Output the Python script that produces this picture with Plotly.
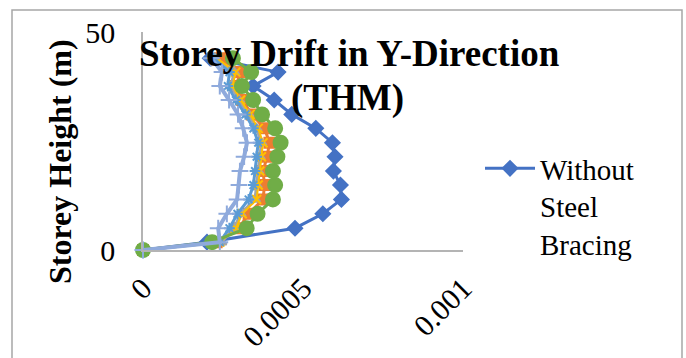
import plotly.graph_objects as go

# Storey heights (m)
heights = [0, 1.8, 5.0, 8.3, 11.6, 14.9, 18.1, 21.4, 24.6, 27.9, 31.1, 34.4, 37.6, 40.8, 44.0]

# Storey drift values
without_bracing = [0, 0.00020, 0.000475, 0.000562, 0.00062, 0.000617, 0.000595, 0.0006, 0.000592,
                   0.00054, 0.000465, 0.00041, 0.000344, 0.000422, 0.00021]
series2 = [0, 0.00023, 0.00030, 0.00033, 0.000375, 0.00038, 0.000375, 0.000388, 0.000395,
           0.00038, 0.00034, 0.00031, 0.00029, 0.000305, 0.00024]
series3 = [0, 0.000245, 0.000285, 0.000305, 0.00035, 0.000355, 0.00036, 0.000365, 0.00037,
           0.000355, 0.00033, 0.0003, 0.000275, 0.000285, 0.000225]
series4 = [0, 0.00024, 0.00029, 0.00031, 0.000355, 0.00036, 0.000365, 0.00037, 0.000375,
           0.00036, 0.000335, 0.000305, 0.00028, 0.00029, 0.00023]
series5 = [0, 0.00024, 0.00027, 0.000295, 0.00033, 0.000345, 0.00035, 0.000355, 0.00036,
           0.000345, 0.00032, 0.00029, 0.000265, 0.00027, 0.00022]
series6 = [0, 0.000216, 0.000324, 0.000358, 0.000406, 0.000413, 0.000406, 0.00042, 0.00043,
           0.000413, 0.000372, 0.000344, 0.000309, 0.000338, 0.000281]
series7 = [0, 0.00024, 0.000235, 0.000262, 0.000294, 0.0003, 0.000303, 0.000316, 0.000325,
           0.000313, 0.000297, 0.000269, 0.00024, 0.000247, 0.000213]

x_tickvals = [0, 0.0005, 0.001]
x_ticktext = ["0", "0.0005", "0.001"]
y_tickvals = [0, 50]
y_ticktext = ["0", "50"]

title_line1 = "Storey Drift in Y-Direction"
title_line2 = "(THM)"
y_title = "Storey Height (m)"

SERIF = "Liberation Serif, Times New Roman, serif"

series = [
    ("Without<br>Steel<br>Bracing", without_bracing, "#4472C4", "diamond", 11, 3, True),
    ("Series 2", series2, "#ED7D31", "square", 10, 3, False),
    ("Series 3", series3, "#A5A5A5", "triangle-up", 9, 3, False),
    ("Series 4", series4, "#FFC000", "x-thin-open", 9, 2, False),
    ("Series 5", series5, "#5B9BD5", "asterisk-open", 9, 3, False),
    ("Series 6", series6, "#70AD47", "circle", 14, 3, False),
    ("Series 7", series7, "#8FAADC", "cross-thin-open", 12, 4, False),
]

fig = go.Figure()
for name, vals, color, sym, size, lw, show in series:
    fig.add_trace(go.Scatter(
        x=vals, y=heights, name=name, mode="lines+markers",
        line=dict(color=color, width=lw),
        marker=dict(symbol=sym, size=size, color=color, line=dict(color=color, width=2)),
        cliponaxis=False, showlegend=show,
    ))

L, R, T, B = 143, 223, 32, 108
W, H = 686, 358
pw, ph = W - L - R, H - T - B


def px_to_paper(x, y):
    return (x - L) / pw, (H - B - y) / ph


bx0, by0 = px_to_paper(12, 366)
bx1, by1 = px_to_paper(682, 10)

ytx, yty = px_to_paper(60, 162)
t1x, t1y = px_to_paper(349, 53)
t2x, t2y = px_to_paper(347, 98)

title_font = dict(family=SERIF, size=37, weight="bold", color="black")

fig.update_layout(
    width=W, height=H,
    margin=dict(l=L, r=R, t=T, b=B, autoexpand=False),
    paper_bgcolor="white", plot_bgcolor="white",
    font=dict(family=SERIF, color="black"),
    xaxis=dict(range=[0, 0.001], tickvals=x_tickvals, ticktext=x_ticktext,
               tickangle=-45, showgrid=False, zeroline=False, automargin=False,
               showline=True, linecolor="#b4b4b4", linewidth=1.5, ticks="",
               tickfont=dict(family=SERIF, size=30, color="black"),
               ticklabelstandoff=7),
    yaxis=dict(range=[0, 50], tickvals=y_tickvals, ticktext=y_ticktext,
               showgrid=False, zeroline=False, automargin=False,
               showline=True, linecolor="#b4b4b4", linewidth=1.5, ticks="",
               tickfont=dict(family=SERIF, size=30, color="black"),
               ticklabelstandoff=20),
    legend=dict(x=480 / W, y=1 - 143 / H, xref="container", yref="container",
                xanchor="left", yanchor="top", valign="top", itemwidth=50,
                font=dict(family=SERIF, size=29, color="black"),
                bgcolor="rgba(0,0,0,0)", tracegroupgap=0),
    shapes=[dict(type="rect", xref="paper", yref="paper",
                 x0=bx0, x1=bx1, y0=by0, y1=by1,
                 line=dict(color="#a6a6a6", width=1.5), fillcolor="rgba(0,0,0,0)",
                 layer="below")],
    annotations=[
        dict(text=y_title, xref="paper", yref="paper",
             x=ytx, y=yty, xanchor="center", yanchor="middle",
             textangle=-90, showarrow=False,
             font=dict(family=SERIF, size=32, weight="bold", color="black")),
        dict(text=title_line1, xref="paper", yref="paper",
             x=t1x, y=t1y, xanchor="center", yanchor="middle",
             showarrow=False, font=title_font),
        dict(text=title_line2, xref="paper", yref="paper",
             x=t2x, y=t2y, xanchor="center", yanchor="middle",
             showarrow=False, font=title_font),
    ],
)

fig.write_html("out.html")
